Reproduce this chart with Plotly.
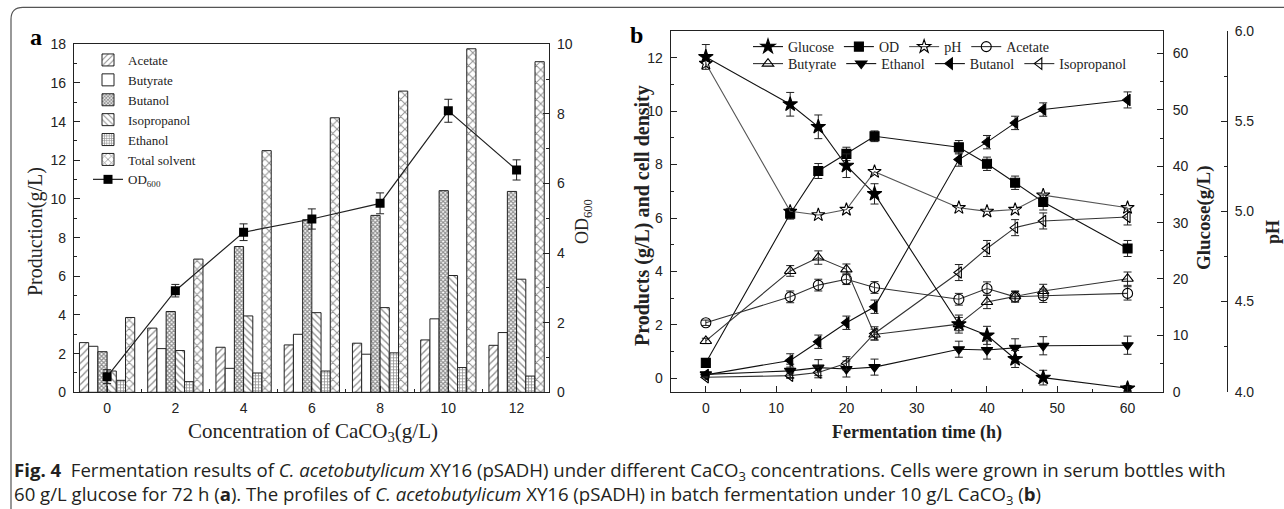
import plotly.graph_objects as go

W, H = 1284, 509

# ---------------- Panel a data ----------------
caco3 = [0, 2, 4, 6, 8, 10, 12]
acetate_a = [2.57, 3.32, 2.33, 2.45, 2.54, 2.71, 2.43]
butyrate_a = [2.38, 2.26, 1.24, 3.00, 1.97, 3.80, 3.09]
butanol_a = [2.10, 4.18, 7.54, 8.93, 9.15, 10.43, 10.39]
isopropanol_a = [1.10, 2.16, 3.95, 4.12, 4.38, 6.04, 5.85]
ethanol_a = [0.62, 0.55, 1.00, 1.10, 2.04, 1.28, 0.84]
total_a = [3.87, 6.89, 12.50, 14.20, 15.58, 17.77, 17.10]
od600_a = [0.45, 2.92, 4.60, 4.98, 5.43, 8.09, 6.39]
od600_err = [0.20, 0.18, 0.24, 0.29, 0.30, 0.33, 0.29]

# ---------------- Panel b data ----------------
time_h = [0, 12, 16, 20, 24, 36, 40, 44, 48, 60]
glucose = [59.4, 51.0, 47.0, 40.1, 35.1, 12.0, 10.0, 5.8, 2.5, 0.6]
glucose_err = [2.2, 2.1, 2.1, 2.1, 1.8, 1.6, 1.6, 1.5, 1.3, 0.5]
od_b = [0.58, 6.16, 7.76, 8.40, 9.06, 8.65, 8.03, 7.32, 6.60, 4.86]
od_b_err = [0.10, 0.20, 0.28, 0.25, 0.20, 0.25, 0.25, 0.25, 0.30, 0.30]
ph = [5.82, 5.00, 4.98, 5.01, 5.22, 5.02, 5.00, 5.01, 5.09, 5.02]
acetate_b = [2.08, 3.05, 3.49, 3.71, 3.40, 2.96, 3.36, 3.05, 3.09, 3.18]
acetate_b_err = [0.10, 0.22, 0.22, 0.20, 0.22, 0.22, 0.25, 0.20, 0.25, 0.25]
butyrate_b = [1.40, 4.02, 4.52, 4.08, 1.64, 2.03, 2.86, 3.07, 3.27, 3.73]
butyrate_b_err = [0.10, 0.20, 0.25, 0.20, 0.20, 0.25, 0.25, 0.20, 0.25, 0.25]
ethanol_b = [0.15, 0.28, 0.40, 0.35, 0.42, 1.09, 1.06, 1.14, 1.22, 1.24]
ethanol_b_err = [0.05, 0.25, 0.30, 0.30, 0.30, 0.30, 0.34, 0.34, 0.34, 0.34]
butanol_b = [0.13, 0.67, 1.37, 2.08, 2.68, 8.19, 8.84, 9.56, 10.06, 10.42]
butanol_b_err = [0.05, 0.25, 0.25, 0.25, 0.25, 0.25, 0.25, 0.25, 0.25, 0.30]
isopropanol_b = [0.04, 0.10, 0.22, 0.56, 1.68, 3.96, 4.86, 5.64, 5.89, 6.04]
isopropanol_b_err = [0.02, 0.10, 0.20, 0.25, 0.25, 0.30, 0.30, 0.30, 0.30, 0.30]

INK = "#222222"
SERIF = "Liberation Serif"
SANS = "Liberation Sans"


def px_x(p):
    return p / W


def px_y(p):
    return 1 - p / H


fig = go.Figure()

# ---------- Panel a bars ----------
bar_specs = [
    ("Acetate", acetate_a, dict(shape="/", size=5, solidity=0.28)),
    ("Butyrate", butyrate_a, dict(shape="")),
    ("Butanol", butanol_a, dict(shape="x", size=3, solidity=0.65)),
    ("Isopropanol", isopropanol_a, dict(shape="\\", size=5, solidity=0.28)),
    ("Ethanol", ethanol_a, dict(shape="+", size=3, solidity=0.45)),
    ("Total solvent", total_a, dict(shape="x", size=6, solidity=0.3)),
]
for name, vals, pat in bar_specs:
    pat = dict(pat)
    pat.update(fgcolor=INK, bgcolor="white", fillmode="overlay")
    fig.add_trace(go.Bar(
        x=caco3, y=vals, name=name, xaxis="x", yaxis="y",
        marker=dict(color="white", line=dict(color=INK, width=1), pattern=pat),
        legend="legend",
    ))

fig.add_trace(go.Scatter(
    x=caco3, y=od600_a, name="OD<sub>600</sub>", xaxis="x", yaxis="y2",
    mode="lines+markers",
    line=dict(color=INK, width=1.2),
    marker=dict(symbol="square", size=9, color="black"),
    error_y=dict(type="data", array=od600_err, color=INK, thickness=1, width=4),
    legend="legend",
))

# ---------- Panel b lines ----------
line_specs = [
    ("Glucose", glucose, glucose_err, "star", 11, "#111111", "y4", "legend2"),
    ("OD", od_b, od_b_err, "square", 9, "#111111", "y3", "legend2"),
    ("pH", ph, None, "star-open", 10, "#555555", "y5", "legend2"),
    ("Acetate", acetate_b, acetate_b_err, "circle-open", 10, "#333333", "y3", "legend2"),
    ("Butyrate", butyrate_b, butyrate_b_err, "triangle-up-open", 10, "#333333", "y3", "legend3"),
    ("Ethanol", ethanol_b, ethanol_b_err, "triangle-down", 10, "#111111", "y3", "legend3"),
    ("Butanol", butanol_b, butanol_b_err, "triangle-left", 10, "#111111", "y3", "legend3"),
    ("Isopropanol", isopropanol_b, isopropanol_b_err, "triangle-left-open", 10, "#333333", "y3", "legend3"),
]
for name, vals, err, sym, msize, col, yax, leg in line_specs:
    kw = {}
    if err is not None:
        kw["error_y"] = dict(type="data", array=err, color=INK, thickness=1, width=4)
    fig.add_trace(go.Scatter(
        x=time_h, y=vals, name=name, xaxis="x2", yaxis=yax,
        mode="lines+markers",
        line=dict(color=col, width=1.1),
        marker=dict(symbol=sym, size=msize, color="black",
                    line=dict(color="black", width=1.1)),
        legend=leg, **kw,
    ))

tickfont = dict(family=SANS, size=14, color=INK)
common_axis = dict(showline=True, linecolor=INK, linewidth=1.3, ticks="inside",
                   ticklen=6, tickwidth=1.2, tickcolor=INK, showgrid=False,
                   zeroline=False, tickfont=tickfont, automargin=False)
xstand = 3
ystand = 4

fig.update_layout(
    width=W, height=H,
    margin=dict(l=0, r=0, t=0, b=0, pad=0),
    paper_bgcolor="white", plot_bgcolor="white",
    barmode="group", bargap=0.19, bargroupgap=0,
    showlegend=True,
    xaxis=dict(domain=[px_x(74), px_x(549)], anchor="y", range=[-0.97, 12.95],
               tick0=0, dtick=2, mirror=True, ticklabelstandoff=xstand,
               minor=dict(ticks="inside", ticklen=3, dtick=1, tickcolor=INK),
               **common_axis),
    yaxis=dict(domain=[px_y(392.3), px_y(44.3)], anchor="x", range=[0, 18],
               tick0=0, dtick=2, mirror=True, ticklabelstandoff=ystand,
               minor=dict(ticks="inside", ticklen=3, dtick=1, tickcolor=INK),
               **common_axis),
    yaxis2=dict(overlaying="y", side="right", anchor="x", range=[0, 10],
                tick0=0, dtick=2, ticklabelstandoff=ystand,
                minor=dict(ticks="inside", ticklen=3, dtick=1, tickcolor=INK),
                **common_axis),
    xaxis2=dict(domain=[px_x(670.7), px_x(1162.7)], anchor="y3", range=[-5, 65],
                tick0=0, dtick=10, mirror=True, ticklabelstandoff=xstand,
                minor=dict(ticks="inside", ticklen=3, dtick=5, tickcolor=INK),
                **common_axis),
    yaxis3=dict(domain=[px_y(391.7), px_y(31)], anchor="x2", range=[-0.5, 13],
                tick0=0, dtick=2, mirror=True, ticklabelstandoff=ystand,
                minor=dict(ticks="inside", ticklen=3, dtick=1, tickcolor=INK),
                **common_axis),
    yaxis4=dict(overlaying="y3", side="right", anchor="x2", range=[0, 64],
                tick0=0, dtick=10, ticklabelstandoff=ystand + 2,
                minor=dict(ticks="inside", ticklen=3, dtick=5, tickcolor=INK),
                **common_axis),
    yaxis5=dict(overlaying="y3", side="right", anchor="free", position=px_x(1226.7),
                range=[4, 6], tick0=4, dtick=0.5, tickformat=".1f", ticklabelstandoff=ystand,
                minor=dict(ticks="inside", ticklen=3, dtick=0.25, tickcolor=INK),
                **common_axis),
    legend=dict(x=px_x(88), y=px_y(45), xanchor="left", yanchor="top",
                bgcolor="rgba(0,0,0,0)", font=dict(family=SERIF, size=13, color=INK),
                tracegroupgap=0),
    legend2=dict(x=px_x(748), y=px_y(31), xanchor="left", yanchor="top",
                 orientation="h", bgcolor="rgba(0,0,0,0)",
                 font=dict(family=SERIF, size=14, color=INK)),
    legend3=dict(x=px_x(748), y=px_y(48), xanchor="left", yanchor="top",
                 orientation="h", bgcolor="rgba(0,0,0,0)",
                 font=dict(family=SERIF, size=14, color=INK)),
)

annos = [
    # panel letters
    dict(text="<b>a</b>", x=px_x(36), y=px_y(37), font=dict(family=SERIF, size=24, color="black")),
    dict(text="<b>b</b>", x=px_x(636), y=px_y(35), font=dict(family=SERIF, size=24, color="black")),
    # panel a titles
    dict(text="Production(g/L)", x=px_x(35), y=px_y(232), textangle=-90,
         font=dict(family=SERIF, size=20, color=INK)),
    dict(text="OD<sub>600</sub>", x=px_x(583), y=px_y(222), textangle=-90,
         font=dict(family=SERIF, size=18, color=INK)),
    dict(text="Concentration of CaCO<sub>3</sub>(g/L)", x=px_x(313), y=px_y(432),
         font=dict(family=SERIF, size=21, color=INK)),
    # panel b titles
    dict(text="<b>Products (g/L) and cell density</b>", x=px_x(643), y=px_y(216), textangle=-90,
         font=dict(family=SERIF, size=20, color=INK)),
    dict(text="<b>Glucose(g/L)</b>", x=px_x(1204), y=px_y(218), textangle=-90,
         font=dict(family=SERIF, size=19, color=INK)),
    dict(text="<b>pH</b>", x=px_x(1273), y=px_y(232), textangle=-90,
         font=dict(family=SERIF, size=18, color=INK)),
    dict(text="<b>Fermentation time (h)</b>", x=px_x(917), y=px_y(432),
         font=dict(family=SERIF, size=18, color=INK)),
    # caption
    dict(text="<b>Fig. 4</b>\u00a0\u00a0Fermentation results of <i>C. acetobutylicum</i> XY16 (pSADH) under different "
              "CaCO<sub>3</sub> concentrations. Cells were grown in serum bottles with",
         x=px_x(12), y=px_y(471), xanchor="left",
         font=dict(family="Open Sans", size=18.6, color="#231f20")),
    dict(text="60 g/L glucose for 72 h (<b>a</b>). The profiles of <i>C. acetobutylicum</i> XY16 (pSADH) in batch "
              "fermentation under 10 g/L CaCO<sub>3</sub> (<b>b</b>)",
         x=px_x(12), y=px_y(495), xanchor="left",
         font=dict(family="Open Sans", size=18.6, color="#231f20")),
]
for a in annos:
    a.setdefault("xanchor", "center")
    a.update(xref="paper", yref="paper", showarrow=False, yanchor="middle")
    fig.add_annotation(**a)

# rounded frame around the figure
x0, y0, r = px_x(11), px_y(7.3), 12
path = (f"M {x0},{px_y(520)} L {x0},{px_y(7.3 + r)} "
        f"Q {x0},{y0} {px_x(11 + r)},{y0} L {px_x(1300)},{y0}")
fig.add_shape(type="path", path=path, xref="paper", yref="paper",
              line=dict(color="#555555", width=1.2))

fig.write_html("out.html")
